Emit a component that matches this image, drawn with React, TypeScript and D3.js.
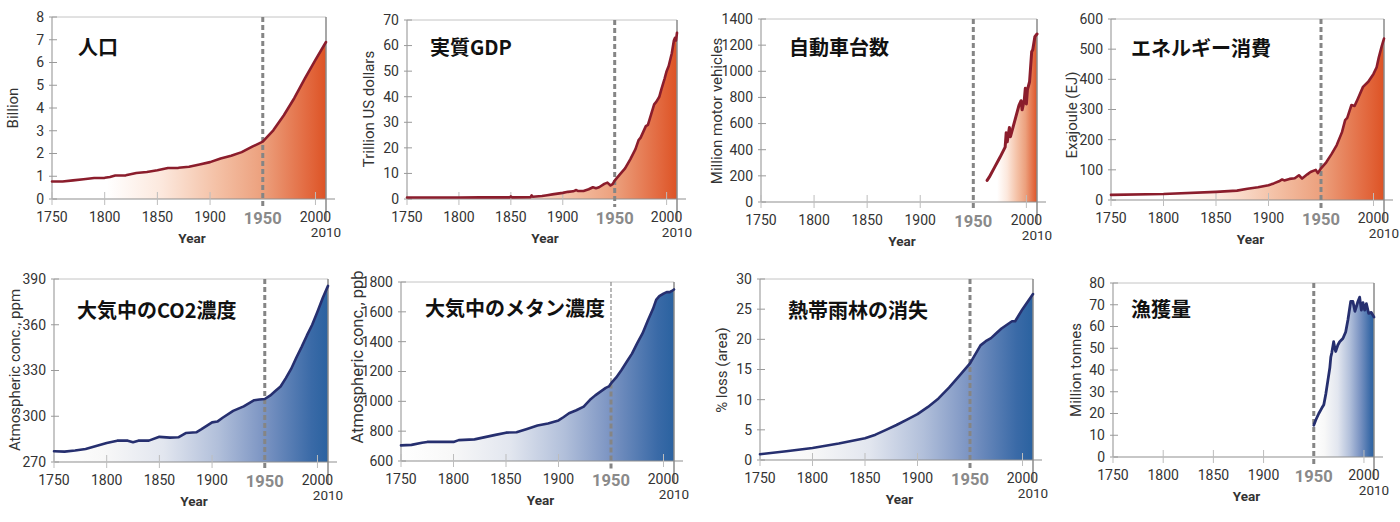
import React from 'react';
import * as d3 from 'd3';

// ---------- data ----------
const startYear = 1750;
const endYear = 2010;
const markerYear = 1950;
const xTickYears = [1750, 1800, 1850, 1900, 2000];

const titles = ['人口', '実質GDP', '自動車台数', 'エネルギー消費', '大気中のCO2濃度', '大気中のメタン濃度', '熱帯雨林の消失', '漁獲量'];
const yLabels = ['Billion', 'Trillion US dollars', 'Million motor vehicles', 'Exajoule (EJ)', 'Atmospheric conc., ppm', 'Atmospheric conc., ppb', '% loss (area)', 'Million tonnes'];
const yDomains: [number, number][] = [[0, 8], [0, 70], [0, 1400], [0, 600], [270, 390], [600, 1800], [0, 30], [0, 80]];
const yTickLists: number[][] = [
  [0, 1, 2, 3, 4, 5, 6, 7, 8],
  [0, 10, 20, 30, 40, 50, 60, 70],
  [0, 200, 400, 600, 800, 1000, 1200, 1400],
  [0, 100, 200, 300, 400, 500, 600],
  [270, 300, 330, 360, 390],
  [600, 800, 1000, 1200, 1400, 1600, 1800],
  [0, 5, 10, 15, 20, 25, 30],
  [0, 10, 20, 30, 40, 50, 60, 70, 80],
];

const populationData: [number, number][] = [
  [1750, 0.77], [1760, 0.77], [1770, 0.82], [1780, 0.87], [1790, 0.92], [1800, 0.93], [1805, 0.97], [1810, 1.03],
  [1820, 1.04], [1830, 1.14], [1840, 1.19], [1850, 1.26], [1860, 1.36], [1870, 1.37], [1880, 1.42], [1890, 1.52],
  [1900, 1.62], [1910, 1.78], [1920, 1.9], [1930, 2.06], [1940, 2.3], [1950, 2.52], [1960, 3.02], [1970, 3.68],
  [1980, 4.44], [1990, 5.3], [2000, 6.12], [2010, 6.9],
];

const gdpData: [number, number][] = [
  [1750, 0.6], [1800, 0.6], [1820, 0.65], [1849, 0.65], [1850, 1.0], [1851, 0.65], [1869, 0.7], [1870, 1.4],
  [1871, 0.9], [1880, 1.2], [1885, 1.5], [1890, 1.8], [1895, 2.1], [1900, 2.4], [1905, 2.8], [1910, 3.0],
  [1913, 3.5], [1915, 3.1], [1920, 3.1], [1925, 3.8], [1929, 4.6], [1932, 4.2], [1935, 4.6], [1940, 5.9],
  [1943, 6.4], [1946, 5.3], [1948, 5.8], [1950, 7.2], [1955, 9.6], [1960, 12], [1965, 15.5], [1970, 19.5],
  [1973, 23], [1975, 24], [1980, 28.5], [1982, 29], [1985, 33], [1988, 37], [1990, 38], [1993, 40],
  [1995, 43], [1998, 47], [2000, 50], [2002, 52], [2005, 57], [2007, 62], [2008, 63], [2009, 62], [2010, 65],
];

const vehiclesData: [number, number][] = [
  [1963, 165], [1965, 190], [1970, 265], [1975, 340], [1980, 420], [1981, 530], [1982, 460], [1984, 570],
  [1985, 500], [1987, 560], [1990, 650], [1993, 740], [1995, 775], [1996, 705], [1998, 780], [1999, 870],
  [2000, 750], [2001, 860], [2003, 920], [2005, 1150], [2006, 1165], [2008, 1265], [2010, 1285],
];

const energyData: [number, number][] = [
  [1750, 17], [1800, 20], [1850, 27], [1870, 31], [1880, 37], [1890, 42], [1900, 49], [1905, 55],
  [1910, 62], [1913, 68], [1915, 65], [1920, 70], [1925, 72], [1929, 82], [1932, 71], [1937, 85],
  [1940, 93], [1945, 100], [1947, 89], [1950, 105], [1955, 125], [1960, 152], [1965, 182], [1970, 225],
  [1973, 265], [1975, 272], [1979, 315], [1982, 312], [1985, 335], [1990, 375], [1995, 392], [2000, 418],
  [2003, 440], [2005, 472], [2008, 512], [2010, 535],
];

const co2Data: [number, number][] = [
  [1750, 277], [1760, 276.8], [1770, 277.5], [1780, 278.5], [1790, 280.5], [1800, 282.5], [1810, 284], [1820, 284],
  [1825, 283], [1830, 284], [1840, 284], [1850, 286.5], [1860, 286], [1868, 286.2], [1875, 289], [1885, 289.5],
  [1890, 291.5], [1900, 296], [1905, 296.5], [1910, 299], [1920, 303.5], [1930, 306.5], [1940, 310.5], [1945, 311],
  [1950, 311.3], [1955, 313.5], [1960, 316.5], [1965, 319.5], [1970, 325], [1975, 331], [1980, 338.5], [1985, 345.5],
  [1990, 353], [1995, 360], [2000, 368.5], [2005, 377.5], [2010, 385.5],
];

const methaneData: [number, number][] = [
  [1750, 705], [1760, 708], [1770, 722], [1775, 728], [1800, 728], [1805, 740], [1820, 745], [1830, 760],
  [1840, 775], [1850, 790], [1860, 793], [1870, 815], [1880, 838], [1890, 852], [1900, 872], [1905, 895],
  [1910, 920], [1917, 940], [1924, 965], [1930, 1010], [1935, 1040], [1940, 1065], [1945, 1090], [1948, 1100],
  [1950, 1120], [1955, 1160], [1960, 1210], [1965, 1265], [1970, 1320], [1975, 1390], [1980, 1455], [1985, 1540],
  [1990, 1620], [1993, 1680], [1996, 1705], [2000, 1722], [2003, 1732], [2006, 1732], [2008, 1740], [2010, 1750],
];

const rainforestData: [number, number][] = [
  [1750, 0.95], [1775, 1.45], [1800, 2.0], [1825, 2.75], [1850, 3.6], [1860, 4.2], [1870, 5.0], [1880, 5.8],
  [1890, 6.7], [1900, 7.6], [1910, 8.8], [1920, 10.2], [1930, 12.0], [1940, 14.0], [1950, 16.0], [1955, 17.5],
  [1960, 19.0], [1965, 19.7], [1970, 20.2], [1975, 21.0], [1980, 21.8], [1990, 23.0], [1993, 23.0], [2000, 25.0],
  [2010, 27.5],
];

const fisheriesData: [number, number][] = [
  [1950, 14.6], [1952, 17], [1955, 20], [1958, 22.5], [1960, 24], [1962, 29], [1964, 35], [1966, 41],
  [1967, 46], [1968, 48], [1969.8, 53], [1971, 50], [1971.8, 48.5], [1974, 51.5], [1975.8, 53], [1979, 54.5],
  [1981.8, 57.5], [1984, 63], [1986.8, 71.5], [1989, 71.5], [1991, 67], [1994, 71.5], [1995.7, 73.5], [1997.4, 67.5],
  [1999, 71], [2000.7, 67.5], [2002.4, 70.5], [2004.7, 66], [2007.3, 66.5], [2010, 64.3],
];

const seriesList = [populationData, gdpData, vehiclesData, energyData, co2Data, methaneData, rainforestData, fisheriesData];

// ---------- layout / styles ----------
type Layout = {
  left: number; right: number; top: number; bottom: number;
  titleX: number; titleY: number;
  ylabX: number; ylabY: number; ylabSize: number;
  theme: 'red' | 'blue';
  lineWidth: number;
  thinDashAbove?: boolean;
};

const layouts: Layout[] = [
  { left: 52, right: 326, top: 17, bottom: 199, titleX: 78, titleY: 48, ylabX: 13, ylabY: 108, ylabSize: 15, theme: 'red', lineWidth: 2.6 },
  { left: 407, right: 677, top: 20, bottom: 199, titleX: 430, titleY: 48, ylabX: 369, ylabY: 109, ylabSize: 15, theme: 'red', lineWidth: 2.6 },
  { left: 761, right: 1037, top: 19, bottom: 202, titleX: 789, titleY: 48, ylabX: 717, ylabY: 111, ylabSize: 15, theme: 'red', lineWidth: 3 },
  { left: 1111, right: 1384, top: 19, bottom: 200, titleX: 1131, titleY: 49, ylabX: 1072, ylabY: 115, ylabSize: 15, theme: 'red', lineWidth: 2.6 },
  { left: 54, right: 328, top: 279, bottom: 462, titleX: 77, titleY: 311, ylabX: 15, ylabY: 370, ylabSize: 15, theme: 'blue', lineWidth: 2.6 },
  { left: 401, right: 674, top: 282, bottom: 461, titleX: 425, titleY: 309, ylabX: 357, ylabY: 357, ylabSize: 16.5, theme: 'blue', lineWidth: 2.6, thinDashAbove: true },
  { left: 760, right: 1033, top: 279, bottom: 460, titleX: 788, titleY: 311, ylabX: 722, ylabY: 370, ylabSize: 15, theme: 'blue', lineWidth: 2.6 },
  { left: 1113, right: 1374, top: 283, bottom: 457, titleX: 1131, titleY: 310, ylabX: 1076, ylabY: 370, ylabSize: 15, theme: 'blue', lineWidth: 2.8 },
];

const themes = {
  red: {
    line: '#8b1d2c',
    stops: [
      [0, '#ffffff'], [0.2, '#ffffff'], [0.4, '#fce8dd'], [0.6, '#f4c1a6'], [0.77, '#eca07d'], [0.94, '#e2673d'], [1, '#dd5325'],
    ] as [number, string][],
  },
  blue: {
    line: '#262f6f',
    stops: [
      [0, '#ffffff'], [0.18, '#f8f8f8'], [0.4, '#e2e6ef'], [0.6, '#b1bfda'], [0.77, '#7a93c2'], [0.94, '#3a6aa7'], [1, '#2a62a0'],
    ] as [number, string][],
  },
};

const tickFont = 'Roboto, "Noto Sans", sans-serif';
const cjkFont = '"Noto Sans CJK JP", "Noto Sans", sans-serif';

function Panel({ idx }: { idx: number }) {
  const L = layouts[idx];
  const data = seriesList[idx];
  const theme = themes[L.theme];
  const x = d3.scaleLinear().domain([startYear, endYear]).range([L.left, L.right]);
  const y = d3.scaleLinear().domain(yDomains[idx]).range([L.bottom, L.top]);
  const area = d3.area<[number, number]>().x(d => x(d[0])).y0(L.bottom).y1(d => y(d[1]));
  const line = d3.line<[number, number]>().x(d => x(d[0])).y(d => y(d[1]));
  const gid = `grad-${idx}`;
  const xm = x(markerYear);
  const markerPoint = data.find(d => d[0] === markerYear);
  const splitY = L.thinDashAbove && markerPoint ? y(markerPoint[1]) : L.top;

  return (
    <g>
      <defs>
        <linearGradient id={gid} x1="0" y1="0" x2="1" y2="0">
          {theme.stops.map(([o, c], i) => (
            <stop key={i} offset={o} stopColor={c} />
          ))}
        </linearGradient>
      </defs>
      <path d={area(data) || ''} fill={`url(#${gid})`} />
      {/* frame */}
      <line x1={L.left} x2={L.right} y1={L.top} y2={L.top} stroke="#c4c4c4" strokeWidth={1} />
      <line x1={L.left} x2={L.left} y1={L.top} y2={L.bottom} stroke="#8f8f8f" strokeWidth={1} />
      <line x1={L.left} x2={L.right + 9} y1={L.bottom} y2={L.bottom} stroke="#8f8f8f" strokeWidth={1} />
      <line x1={L.right} x2={L.right} y1={L.top} y2={L.bottom + 22} stroke="#8a8a8a" strokeWidth={1.5} />
      {/* y ticks */}
      {yTickLists[idx].map(t => (
        <g key={`y${t}`}>
          <line x1={L.left - 3} x2={L.left + 5} y1={y(t)} y2={y(t)} stroke="#9a9a9a" strokeWidth={1} />
          <text x={L.left - 8} y={y(t)} dy="0.35em" textAnchor="end" fontFamily={tickFont} fontSize={14} fill="#333">
            {t}
          </text>
        </g>
      ))}
      {/* x ticks */}
      {xTickYears.map(t => (
        <g key={`x${t}`}>
          <line x1={x(t)} x2={x(t)} y1={L.bottom - 7} y2={L.bottom + 6} stroke="#bdbdbd" strokeWidth={1} />
          <text x={x(t)} y={L.bottom + 23} textAnchor="middle" fontFamily={tickFont} fontSize={14} fill="#333">
            {t}
          </text>
        </g>
      ))}
      {/* 1950 marker */}
      {L.thinDashAbove && (
        <line x1={xm} x2={xm} y1={L.top} y2={splitY} stroke="#8a8a8a" strokeWidth={1.2} strokeDasharray="4 2" />
      )}
      <line x1={xm} x2={xm} y1={splitY} y2={L.bottom + 8} stroke="#858585" strokeWidth={3} strokeDasharray="5 3" />
      <path d={line(data) || ''} fill="none" stroke={theme.line} strokeWidth={L.lineWidth} strokeLinejoin="round" strokeLinecap="round" />
      <text x={xm} y={L.bottom + 25} textAnchor="middle" fontFamily={tickFont} fontWeight="bold" fontSize={16.5} fill="#8a8a8a">
        {markerYear}
      </text>
      <text x={x(endYear)} y={L.bottom + 37.5} textAnchor="middle" fontFamily={tickFont} fontSize={13.5} fill="#333">
        {endYear}
      </text>
      <text x={(L.left + L.right) / 2 + 3} y={L.bottom + 44} textAnchor="middle" fontFamily={tickFont} fontWeight="bold" fontSize={13.5} fill="#333">
        Year
      </text>
      <text
        transform={`translate(${L.ylabX},${L.ylabY}) rotate(-90)`}
        textAnchor="middle"
        dy="0.35em"
        fontFamily={tickFont}
        fontSize={L.ylabSize}
        fill="#333"
      >
        {yLabels[idx]}
      </text>
      <text x={L.titleX} y={L.titleY} dy="0.36em" fontFamily={cjkFont} fontWeight="bold" fontSize={20} fill="#111">
        {titles[idx]}
      </text>
    </g>
  );
}

export default function App() {
  return (
    <div style={{ position: 'absolute', left: 0, top: 0 }}>
      <svg width={1400} height={522} viewBox="0 0 1400 522" style={{ display: 'block', background: '#fff' }}>
        <rect x={0} y={0} width={1400} height={522} fill="#fff" />
        {layouts.map((_, i) => (
          <Panel key={i} idx={i} />
        ))}
      </svg>
    </div>
  );
}
